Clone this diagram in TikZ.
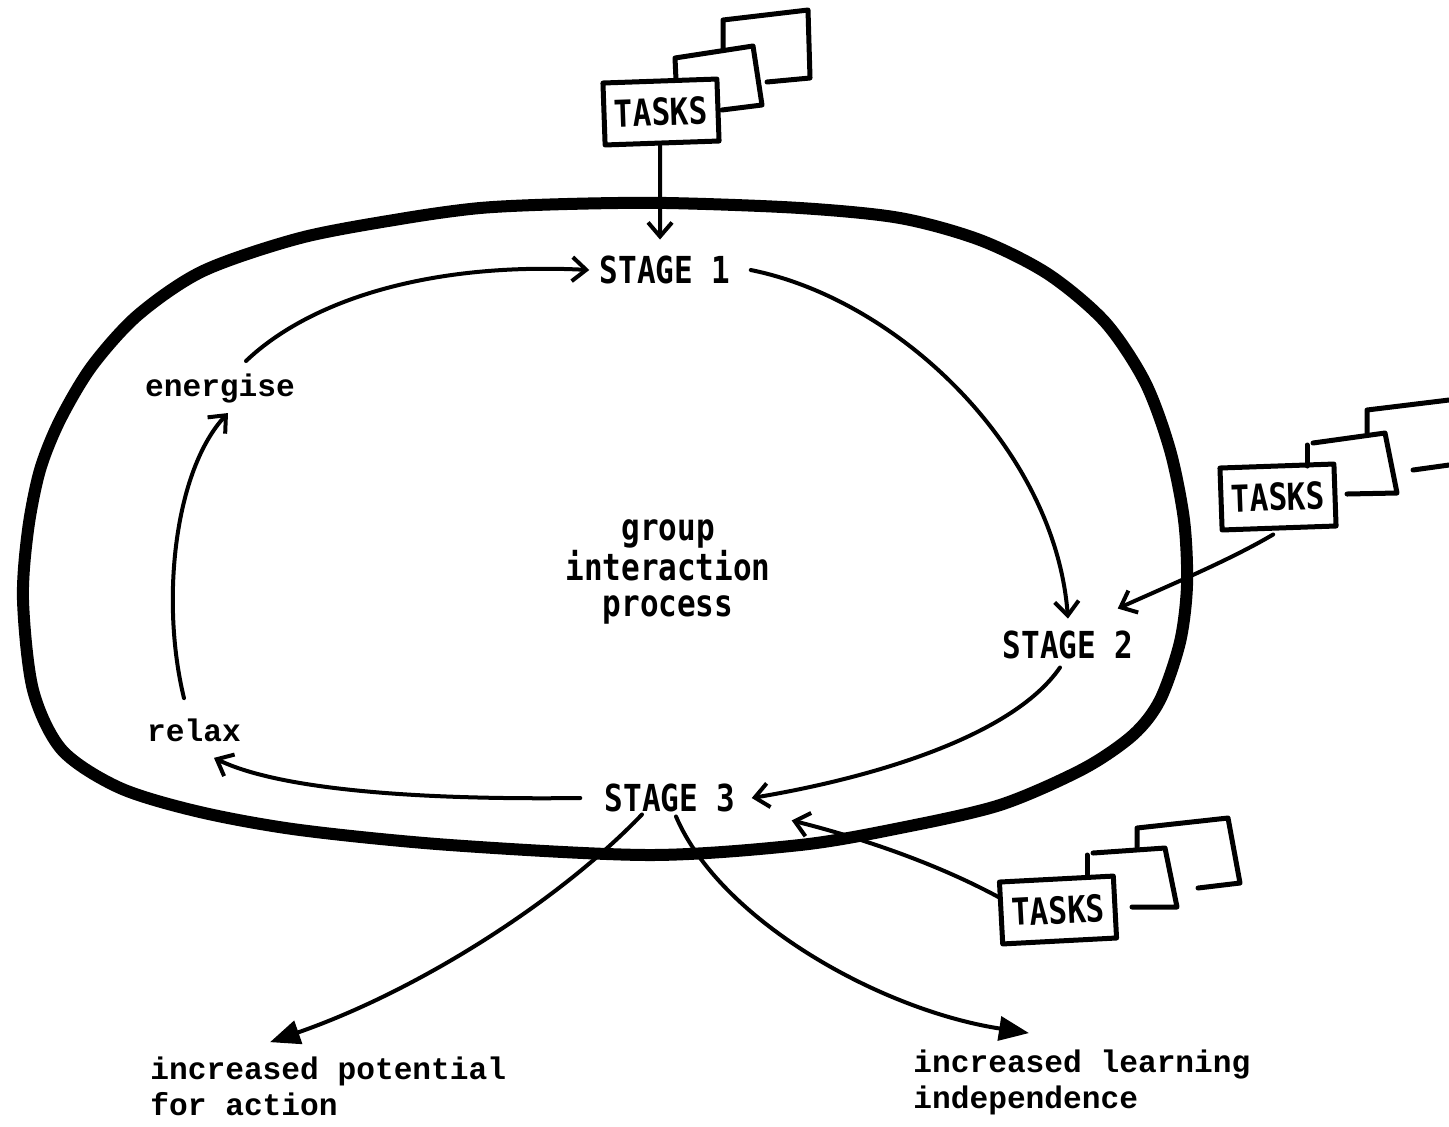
\documentclass[tikz,border=0pt]{standalone}
\usepackage{fontspec}
\usetikzlibrary{arrows.meta,calc}
\newfontfamily\capsfont{DejaVu Sans Mono}
\newfontfamily\typefont{Liberation Mono}
\newcommand\stretchtxt[1]{\scalebox{1}[1.2]{#1}}
\tikzset{
  stagelbl/.style={font=\capsfont\bfseries\fontsize{15.5}{18}\selectfont, inner sep=2pt},
  lclbl/.style={font=\typefont\bfseries\fontsize{15.6}{18}\selectfont, inner sep=2pt},
  taskbox/.style={draw, line width=2.5pt, minimum width=57pt, minimum height=31pt, inner sep=2pt,
    font=\capsfont\bfseries\fontsize{15.5}{18}\selectfont},
  boxline/.style={line width=2.5pt},
  conn/.style={line width=2pt, -{Straight Barb[length=7pt,width=12pt,line width=2pt]}},
  outarr/.style={line width=2pt, -{Triangle[length=15pt,width=12pt]}},
  loopline/.style={line width=6pt}
}
\begin{document}
\begin{tikzpicture}[x=0.5pt,y=-0.5pt, line cap=round, line join=round]
\useasboundingbox (0,0) rectangle (1449,1126);

% big loop
\draw[loopline] plot[smooth cycle, tension=0.5] coordinates {
  (567,204) (667,203) (800,208) (900,218) (980,240) (1048,274) (1105,322)
  (1145,382) (1170,450) (1184,520) (1187,585) (1180,642) (1160,700) (1133,735)
  (1083,769) (1000,805) (900,828) (800,845) (650,855) (450,845) (300,830)
  (200,812) (120,788) (62,750) (33,690) (23,600) (28,530) (40,470)
  (60,420) (92,366) (138,315) (203,271) (300,238) (400,219) (480,208)};

% labels
\node[stagelbl] (s1) at (665,270) {\stretchtxt{STAGE 1}};
\node[stagelbl] (s2) at (1068,645) {\stretchtxt{STAGE 2}};
\node[stagelbl] (s3) at (670,798) {\stretchtxt{STAGE 3}};
\node[stagelbl, align=center] (gp) at (668,572) {\stretchtxt{group}\\\stretchtxt{interaction}\\\stretchtxt{process}};
\node[lclbl] (en) at (220,388) {energise};
\node[lclbl] (rl) at (194,730) {relax};
\node[lclbl, anchor=west, align=left] (o1) at (146,1086) {increased potential\\for action};
\node[lclbl, anchor=west, align=left] (o2) at (909,1082) {increased learning\\independence};

% task boxes
\node[taskbox, rotate=2] (t1) at (661,112) {\stretchtxt{TASKS}};
\node[taskbox, rotate=2] (t2) at (1278,497) {\stretchtxt{TASKS}};
\node[taskbox, rotate=3] (t3) at (1058,910) {\stretchtxt{TASKS}};

% papers behind the task boxes
\draw[boxline] (676,80) -- (675,58) -- (753,46) -- (762,105) -- (722,110);
\draw[boxline] (723,50) -- (723,20) -- (808,10) -- (810,78) -- (767,82);
\draw[boxline] (1307,466) -- (1307,445);
\draw[boxline] (1313,443) -- (1385,433) -- (1397,493) -- (1347,494);
\draw[boxline] (1367,433) -- (1367,410) -- (1449,400);
\draw[boxline] (1413,470) -- (1449,465);
\draw[boxline] (1087,875) -- (1087,855);
\draw[boxline] (1093,853) -- (1165,848) -- (1177,907) -- (1132,907);
\draw[boxline] (1137,848) -- (1137,828) -- (1228,818) -- (1240,883) -- (1198,888);

% cycle connectors
\draw[conn] ([xshift=13pt,yshift=4pt]en.north) .. controls (310,300) and (430,262) .. ([xshift=-3pt]s1.west);
\draw[conn] ([xshift=8pt]s1.east) .. controls (900,300) and (1055,450) .. ([yshift=4pt]s2.north);
\draw[conn] ([xshift=-4pt,yshift=-2pt]s2.south) .. controls (1010,740) and (860,780) .. ([xshift=6pt]s3.east);
\draw[conn] ([xshift=-10pt]s3.west) .. controls (420,800) and (280,790) .. ([xshift=10pt,yshift=-6pt]rl.south);
\draw[conn] ([xshift=-5pt,yshift=8pt]rl.north) .. controls (160,600) and (175,470) .. ([xshift=4pt,yshift=-3pt]en.south);

% task inputs
\draw[conn] ([xshift=-1pt]t1.south) -- ([xshift=-2.5pt,yshift=6pt]s1.north);
\draw[conn] ([xshift=-3pt,yshift=-2pt]t2.south) .. controls (1230,560) and (1170,585) .. ([xshift=-10pt,yshift=9pt]s2.north east);
\draw[conn] ([yshift=8pt]t3.west) .. controls (930,860) and (850,835) .. ([xshift=26pt,yshift=-2pt]s3.south east);

% outcomes
\draw[outarr] ([xshift=-14pt,yshift=1pt]s3.south) .. controls (560,900) and (420,990) .. ([xshift=62pt,yshift=5pt]o1.north west);
\draw[outarr] ([xshift=3pt]s3.south) .. controls (720,920) and (880,1010) .. ([xshift=60pt,yshift=6pt]o2.north west);
\end{tikzpicture}
\end{document}
